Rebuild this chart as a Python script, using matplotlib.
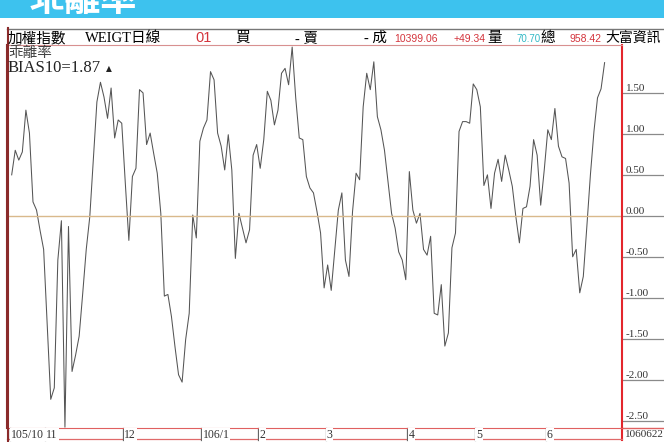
import numpy as np
import matplotlib.pyplot as plt
from matplotlib.lines import Line2D

# ============================================
# 乖離率 BIAS10 (加權指數 日線)
# ============================================

# daily BIAS10 values, 105/10 .. 106/06/22
bias10 = [
    0.50, 0.80, 0.68, 0.78, 1.29, 1.01, 0.17, 0.07, -0.18, -0.41,
    -1.33, -2.24, -2.10, -0.54, -0.06, -2.58, -0.13, -1.90, -1.70, -1.47,
    -0.95, -0.41, -0.01, 0.70, 1.39, 1.63, 1.45, 1.19, 1.56, 0.95,
    1.17, 1.13, 0.40, -0.30,
    0.48, 0.58, 1.54, 1.50, 0.87, 1.01, 0.76, 0.52, 0.03, -0.98,
    -0.96, -1.23, -1.60, -1.94, -2.03, -1.51, -1.19, 0.01, -0.27,
    0.91, 1.07, 1.17, 1.76, 1.66, 1.01, 0.85, 0.56, 0.99, 0.56,
    -0.52, 0.03, -0.15, -0.33, -0.17, 0.74, 0.87, 0.58, 0.93, 1.52,
    1.41, 1.11, 1.29, 1.74, 1.80, 1.60, 2.06, 1.44, 0.95, 0.93,
    0.48, 0.34, 0.28, 0.05, -0.21, -0.88, -0.60, -0.91, -0.42, 0.07,
    0.28, -0.54, -0.74, 0.05, 0.52, 0.44, 1.33, 1.74, 1.54, 1.88,
    1.21, 1.05, 0.80, 0.42, 0.03, -0.15, -0.44, -0.54, -0.78, 0.54,
    0.07, -0.09, 0.03, -0.41, -0.48, -0.25, -1.19, -1.21, -0.84, -1.59,
    -1.43, -0.39, -0.21, 1.03, 1.15, 1.15, 1.13, 1.61, 1.54, 1.33,
    0.37, 0.50, 0.09, 0.52, 0.69, 0.42, 0.74, 0.56, 0.36, -0.01,
    -0.33, 0.09, 0.11, 0.36, 0.93, 0.74, 0.13, 0.56, 1.05, 0.93,
    1.31, 0.85, 0.72, 0.70, 0.40, -0.50, -0.41, -0.94, -0.74, -0.13,
    0.50, 1.03, 1.44, 1.55, 1.87,
]

# first trading day index of each month and its label
month_start = [0, 10, 32, 54, 70, 89, 112, 131, 151]
month_labels = ["105/10", "11", "12", "106/1", "2", "3", "4", "5", "6"]
end_label = "1060622"

y_ticks = [1.50, 1.00, 0.50, 0.00, -0.50, -1.00, -1.50, -2.00, -2.50]

# header strip: text, colour, size
header_items = [
    ("加權指數", "black", 10.5), ("WEIGT日線", "black", 10.5), ("01", "#d4343c", 10.5),
    ("買", "black", 10.5), ("- 賣", "black", 10.5), ("- 成", "black", 10.5),
    ("10399.06", "#d4343c", 7.5), ("+49.34", "#d4343c", 7.5), ("量", "black", 10.5),
    ("70.70", "#33b9c6", 7), ("總", "black", 10.5), ("958.42", "#d4343c", 7.5),
    ("大富資訊", "black", 10),
]
header_x = [8, 85, 195, 235, 295, 364, 394, 454, 487, 516, 540, 570, 605]

W, H = 664, 442
CJK = "Noto Sans CJK TC"
SERIF = ["Liberation Serif", CJK]


def fx(x):
    return x / W


def fy(y):
    return 1 - y / H


fig = plt.figure(figsize=(W / 100, H / 100), dpi=100)

# blue title banner (title cut off at the top)
bax = fig.add_axes([0, fy(18), 1, 18 / H])
bax.set_facecolor("#3dc2ee")
bax.set_xticks([])
bax.set_yticks([])
for s in bax.spines.values():
    s.set_visible(False)
bax.text(0.043, -0.05, "乖離率", transform=bax.transAxes, ha="left", va="bottom",
         fontsize=26, weight="bold", color="white", family=CJK, clip_on=True)

# header row
fig.add_artist(Line2D([fx(7), 1], [fy(28.5), fy(28.5)], color="#777777", lw=1,
                      transform=fig.transFigure))
fig.add_artist(Line2D([fx(7.5), fx(7.5)], [fy(28), fy(442)], color="#8a2a2a", lw=1.5,
                      transform=fig.transFigure))
for (txt, col, fs), x in zip(header_items, header_x):
    if txt[0].isdigit() or txt[0] == "+":
        fam = ["Liberation Sans"]
    else:
        fam = SERIF
    fig.text(fx(x), fy(42), txt, color=col, fontsize=fs, family=fam,
             ha="left", va="baseline")

# main chart
ax = fig.add_axes([fx(7), fy(428), (622 - 7) / W, (428 - 45) / H])
x = np.arange(len(bias10))
ax.plot(x, bias10, color="#555555", lw=0.75)
ax.axhline(0, color="#d9b98c", lw=1)
ax.set_xlim(-1.32, 171.9)
ax.set_ylim(-2.59, 2.085)
ax.set_xticks([])
ax.set_yticks([])
ax.spines["left"].set_color("#8a2a2a")
ax.spines["left"].set_linewidth(1.5)
ax.spines["right"].set_color("#e3262c")
ax.spines["right"].set_linewidth(1.5)
ax.spines["bottom"].set_color("#e06060")
ax.spines["top"].set_color("#d89090")

# legend text
fig.text(fx(8), fy(57), "乖離率", ha="left", va="baseline",
         fontsize=10.5, family=CJK, color="#444444")
fig.text(fx(8), fy(72), "BIAS10=%.2f" % bias10[-1], ha="left", va="baseline",
         fontsize=12, family="Liberation Serif", color="#222222")
fig.text(fx(106), fy(71), "▲", ha="left", va="baseline", fontsize=5.5, color="#222222")

# right value scale
ytr = ax.get_yaxis_transform()
for v in y_ticks:
    ax.text(1.0065, v, "%.2f" % v, transform=ytr, ha="left", va="bottom",
            fontsize=8, family="Liberation Serif", color="#333333", clip_on=False)
    ax.plot([1.0, 1.07], [v, v], transform=ytr, color="#8a8a8a", lw=0.9, clip_on=False)
ax.plot([1.0, 1.07], [0, 0], transform=ax.transAxes, color="#e06060", lw=1, clip_on=False)
ax.plot([1.0, 1.0], [0, -0.032], transform=ax.transAxes, color="#e3262c", lw=1.5,
        clip_on=False)

# date row
xtr = ax.get_xaxis_transform()
ax.plot([0, 1], [-0.028, -0.028], transform=ax.transAxes, color="#e06a6a", lw=0.9,
        clip_on=False)
for s, lab in zip(month_start, month_labels):
    t = s - 0.6
    ax.plot([t, t], [0, -0.032], transform=xtr, color="#666666", lw=0.9, clip_on=False)
    ax.text(t + 0.35, -0.017, lab, transform=xtr, ha="left", va="center",
            fontsize=8.5, family="Liberation Serif", color="#333333", clip_on=False,
            bbox=dict(facecolor="white", edgecolor="none", pad=0.6))
ax.text(1.0055, -0.018, end_label, transform=ax.transAxes, ha="left", va="center",
        fontsize=8, family="Liberation Serif", color="#333333", clip_on=False)

plt.savefig("out.png", dpi=100)
